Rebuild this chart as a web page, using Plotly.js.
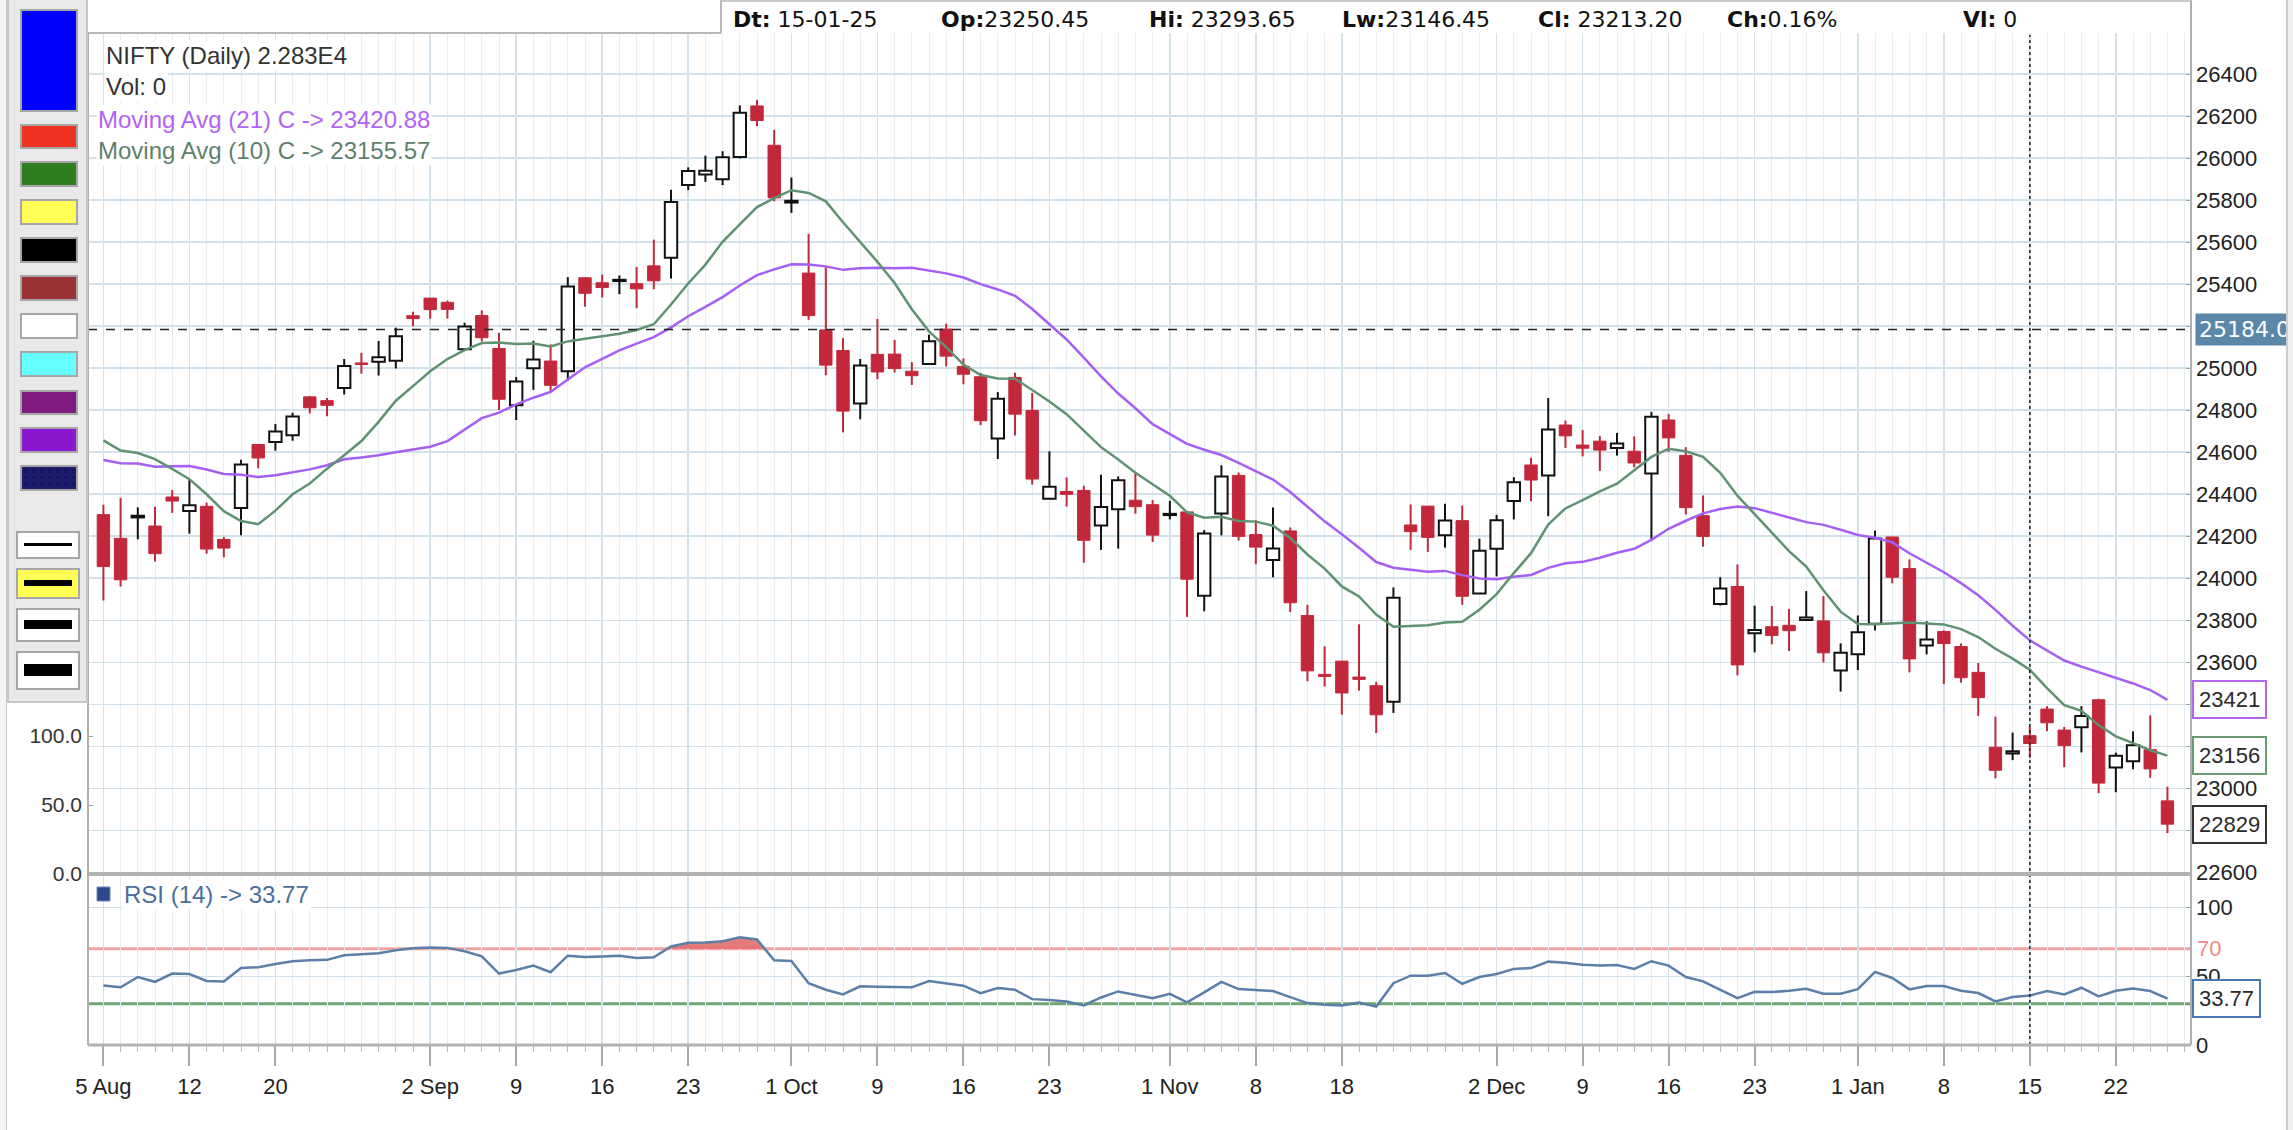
<!DOCTYPE html>
<html>
<head>
<meta charset="utf-8">
<script src="https://cdn.plot.ly/plotly-3.0.1.min.js"></script>
<style>
html,body{margin:0;padding:0;background:#fff;overflow:hidden;}
#chart{position:absolute;left:0;top:0;width:2293px;height:1130px;}
#lstrip{position:absolute;left:0;top:0;width:7px;height:1130px;background:#f3f3f3;border-right:1px solid #c9c9c9;box-sizing:border-box;}
#panel{position:absolute;left:7px;top:0;width:81px;height:703px;background:#e9e9e9;border-left:2px solid #c6c6c6;border-right:2px solid #c6c6c6;border-bottom:2px solid #c6c6c6;box-sizing:border-box;}
.sw{position:absolute;left:20px;width:58px;border:2px solid #a6a6a6;box-sizing:border-box;}
.lb{position:absolute;left:16px;width:64px;border:2px solid #a6a6a6;box-sizing:border-box;}
.lb div{position:absolute;left:6px;right:6px;background:#000;}
#rstrip{position:absolute;left:2286px;top:0;width:7px;height:1130px;background:#efefef;border-left:2px solid #cdcdcd;box-sizing:border-box;}
</style>
</head>
<body>
<div id="chart"></div>
<div id="lstrip"></div>
<div id="panel"></div>
<div class="sw" style="top:9px;height:103px;background:#0000ff"></div>
<div class="sw" style="top:124px;height:25px;background:#ee3322"></div>
<div class="sw" style="top:161px;height:26px;background:#2e7d20"></div>
<div class="sw" style="top:199px;height:26px;background:#ffff55"></div>
<div class="sw" style="top:237px;height:26px;background:#000000"></div>
<div class="sw" style="top:275px;height:26px;background:#993333"></div>
<div class="sw" style="top:313px;height:26px;background:#ffffff"></div>
<div class="sw" style="top:351px;height:26px;background:#66ffff"></div>
<div class="sw" style="top:390px;height:25px;background:#7f1a7f"></div>
<div class="sw" style="top:427px;height:26px;background:#8a18d0"></div>
<div class="sw" style="top:465px;height:26px;background:#1c1c6c;background-image:radial-gradient(#05052a 1px,transparent 1.2px);background-size:8px 7px"></div>
<div class="lb" style="top:531px;height:28px;background:#fff"><div style="top:10px;height:3px"></div></div>
<div class="lb" style="top:568px;height:31px;background:#ffff55"><div style="top:10px;height:6px"></div></div>
<div class="lb" style="top:608px;height:34px;background:#fff"><div style="top:10px;height:9px"></div></div>
<div class="lb" style="top:651px;height:39px;background:#fff"><div style="top:11px;height:12px"></div></div>
<div id="rstrip"></div>
<script>
// ---------------- data ----------------
const dates = [
'2024-08-05','2024-08-06','2024-08-07','2024-08-08','2024-08-09','2024-08-12','2024-08-13','2024-08-14','2024-08-16','2024-08-19',
'2024-08-20','2024-08-21','2024-08-22','2024-08-23','2024-08-26','2024-08-27','2024-08-28','2024-08-29','2024-08-30','2024-09-02',
'2024-09-03','2024-09-04','2024-09-05','2024-09-06','2024-09-09','2024-09-10','2024-09-11','2024-09-12','2024-09-13','2024-09-16',
'2024-09-17','2024-09-18','2024-09-19','2024-09-20','2024-09-23','2024-09-24','2024-09-25','2024-09-26','2024-09-27','2024-09-30',
'2024-10-01','2024-10-03','2024-10-04','2024-10-07','2024-10-08','2024-10-09','2024-10-10','2024-10-11','2024-10-14','2024-10-15',
'2024-10-16','2024-10-17','2024-10-18','2024-10-21','2024-10-22','2024-10-23','2024-10-24','2024-10-25','2024-10-28','2024-10-29',
'2024-10-30','2024-10-31','2024-11-01','2024-11-04','2024-11-05','2024-11-06','2024-11-07','2024-11-08','2024-11-11','2024-11-12',
'2024-11-13','2024-11-14','2024-11-18','2024-11-19','2024-11-21','2024-11-22','2024-11-25','2024-11-26','2024-11-27','2024-11-28',
'2024-11-29','2024-12-02','2024-12-03','2024-12-04','2024-12-05','2024-12-06','2024-12-09','2024-12-10','2024-12-11','2024-12-12',
'2024-12-13','2024-12-16','2024-12-17','2024-12-18','2024-12-19','2024-12-20','2024-12-23','2024-12-24','2024-12-26','2024-12-27',
'2024-12-30','2024-12-31','2025-01-01','2025-01-02','2025-01-03','2025-01-06','2025-01-07','2025-01-08','2025-01-09','2025-01-10',
'2025-01-13','2025-01-14','2025-01-15','2025-01-16','2025-01-17','2025-01-20','2025-01-21','2025-01-22','2025-01-23','2025-01-24',
'2025-01-27'];

const open = [
24302.85,24189.85,24289.40,24248.55,24386.85,24320.05,24342.35,24184.40,24334.85,24636.35,
24648.90,24680.55,24863.40,24845.40,24906.10,25024.80,25030.80,25035.30,25249.70,25333.60,
25313.40,25089.95,25250.50,25093.70,24823.40,24999.40,25034.00,24985.30,25430.45,25406.65,
25416.90,25402.40,25487.05,25525.95,25872.55,25921.45,25899.45,26005.40,26248.25,26061.10,
25788.45,25452.85,25181.90,25084.10,24832.20,25065.80,25067.05,24985.30,25019.40,25186.30,
25008.55,24959.20,24664.95,24956.15,24798.65,24378.15,24412.70,24418.05,24251.10,24328.85,
24371.45,24349.85,24302.75,24315.75,23916.50,24308.75,24489.60,24207.70,24087.25,24225.30,
23822.45,23542.15,23605.30,23529.55,23488.45,23411.80,24253.55,24343.30,24204.80,24274.15,
23927.15,24140.85,24367.50,24539.15,24488.75,24729.45,24633.90,24652.65,24620.50,24604.45,
24498.35,24753.40,24584.80,24297.95,23877.15,23960.70,23738.20,23769.10,23775.80,23801.40,
23796.90,23560.60,23637.65,23783.00,24196.40,24045.80,23679.90,23746.65,23674.75,23551.90,
23195.40,23165.90,23250.45,23377.25,23277.10,23290.40,23421.65,23099.15,23128.30,23183.90,
22940.15];

const high = [
24350.05,24382.60,24337.70,24340.50,24419.75,24472.80,24359.95,24196.50,24563.55,24638.80,
24734.30,24787.95,24867.35,24858.40,25043.80,25073.10,25129.60,25192.90,25268.35,25333.65,
25321.70,25216.00,25275.45,25168.75,24957.50,25130.50,25113.70,25433.35,25430.50,25445.70,
25441.65,25482.20,25611.95,25849.25,25956.00,26011.55,26032.80,26250.90,26277.35,26134.70,
25907.60,25639.45,25485.05,25143.00,25044.00,25234.05,25134.05,25028.65,25159.75,25212.05,
25046.15,24977.55,24886.20,24978.30,24882.00,24604.25,24480.65,24440.25,24492.60,24484.50,
24498.20,24372.45,24368.25,24316.75,24229.05,24537.60,24503.35,24276.15,24336.80,24242.00,
23873.60,23675.90,23606.80,23780.65,23507.30,23956.10,24351.55,24343.30,24354.55,24345.75,
24188.45,24301.70,24481.35,24573.20,24857.75,24751.05,24705.00,24677.80,24691.75,24675.25,
24792.30,24781.25,24624.10,24394.45,24004.90,24065.80,23869.55,23867.65,23854.50,23938.85,
23915.35,23689.85,23822.80,24226.70,24196.45,24089.95,23795.20,23751.85,23689.50,23596.60,
23340.95,23264.95,23293.65,23391.10,23292.10,23391.10,23426.30,23169.55,23270.80,23347.30,
23007.45];

const low = [
23893.70,23960.40,24184.90,24079.70,24311.20,24212.10,24116.50,24099.70,24204.50,24522.95,
24607.20,24654.50,24784.45,24771.65,24874.70,24973.65,24964.65,24998.50,25199.40,25235.50,
25235.80,25083.80,25127.75,24801.30,24753.15,24896.80,24885.15,24941.45,25292.45,25336.20,
25352.25,25285.55,25376.05,25426.60,25847.35,25886.85,25871.35,25998.40,26151.40,25794.10,
25739.20,25230.30,24966.80,24694.35,24756.80,24947.70,24979.40,24920.05,25017.50,25008.15,
24923.20,24728.70,24567.65,24679.60,24445.80,24378.10,24341.20,24073.90,24134.90,24140.85,
24307.30,24172.60,24280.20,23816.15,23842.75,24204.05,24179.60,24066.65,24004.60,23839.15,
23509.60,23484.15,23350.40,23464.80,23263.15,23359.00,24135.45,24125.40,24145.65,23873.35,
23927.15,24008.65,24280.00,24366.30,24295.55,24620.50,24580.05,24510.65,24583.85,24527.95,
24180.80,24601.75,24303.45,24149.85,23870.30,23537.35,23647.20,23685.15,23653.60,23800.60,
23599.30,23460.45,23562.80,23751.55,23976.00,23551.90,23637.80,23496.15,23503.05,23344.35,
23047.25,23134.15,23146.45,23272.05,23100.35,23170.65,22976.85,22981.30,23090.65,23050.00,
22786.90];

const close = [
24055.60,23992.55,24297.50,24117.00,24367.50,24347.00,24139.00,24143.75,24541.15,24572.65,
24698.85,24770.20,24811.50,24823.15,25010.60,25017.75,25052.35,25151.95,25235.90,25278.70,
25279.85,25198.70,25145.10,24852.15,24936.40,25041.10,24918.45,25388.90,25356.50,25383.75,
25418.55,25377.55,25415.80,25790.95,25939.05,25940.40,26004.15,26216.05,26178.95,25810.85,
25796.90,25250.10,25014.60,24795.75,25013.15,24981.95,24998.45,24964.25,25127.95,25057.35,
24971.30,24749.85,24854.05,24781.10,24472.10,24435.50,24399.40,24180.80,24339.15,24466.85,
24340.85,24205.35,24304.35,23995.35,24213.30,24484.05,24199.35,24148.20,24141.30,23883.45,
23559.05,23532.70,23453.80,23518.50,23349.90,23907.25,24221.90,24194.50,24274.90,23914.15,
24131.10,24276.05,24457.15,24467.45,24708.40,24677.80,24619.00,24610.05,24641.80,24548.70,
24768.30,24668.25,24336.00,24198.85,23951.70,23587.50,23753.45,23727.65,23750.20,23813.40,
23644.90,23644.80,23742.90,24188.65,24004.75,23616.05,23707.90,23688.95,23526.50,23431.50,
23085.95,23176.05,23213.20,23311.80,23203.20,23344.75,23024.65,23155.35,23205.35,23092.20,
22829.15];

const ma21 = [
24563.0,24547.3,24546.2,24531.1,24533.2,24534.7,24517.4,24496.3,24492.9,24482.0,
24490.0,24502.5,24518.3,24537.8,24566.6,24575.3,24585.6,24599.7,24613.2,24626.0,
24652.8,24707.2,24762.0,24788.4,24827.4,24859.5,24886.7,24946.2,25003.9,25044.1,
25084.4,25116.7,25147.5,25194.1,25247.2,25291.5,25338.4,25393.9,25442.8,25470.1,
25494.8,25493.4,25484.6,25468.0,25475.7,25477.9,25475.8,25478.0,25465.6,25451.3,
25431.6,25399.8,25374.8,25344.6,25281.8,25210.2,25136.8,25050.0,24960.6,24879.1,
24809.1,24733.3,24688.2,24639.7,24611.9,24586.7,24549.4,24509.0,24469.8,24410.5,
24339.1,24270.7,24209.0,24145.4,24077.2,24050.3,24040.1,24030.4,24034.9,24014.7,
23998.7,23995.6,24007.6,24015.3,24049.3,24071.4,24077.9,24097.4,24121.0,24140.4,
24182.5,24235.3,24273.6,24309.0,24329.7,24341.0,24333.7,24310.1,24289.0,24267.0,
24254.1,24231.0,24205.6,24192.9,24170.9,24118.9,24072.7,24028.4,23976.8,23919.2,
23849.5,23773.7,23704.4,23655.7,23608.2,23579.3,23552.5,23524.0,23499.1,23467.8,
23420.9];

const ma10 = [
24656.3,24607.7,24596.1,24567.2,24520.5,24471.6,24399.8,24319.1,24272.1,24257.6,
24321.9,24399.6,24451.0,24521.6,24585.9,24653.0,24744.3,24845.1,24914.6,24985.2,
25043.3,25086.2,25119.5,25122.4,25114.9,25117.2,25103.8,25127.5,25139.6,25150.1,
25164.0,25181.9,25209.0,25302.9,25403.2,25493.1,25601.7,25684.4,25766.6,25809.3,
25847.1,25834.3,25794.2,25694.7,25602.1,25506.3,25405.7,25280.5,25175.4,25100.0,
25017.4,24967.4,24951.3,24949.8,24895.7,24841.1,24781.2,24702.9,24624.0,24565.0,
24502.0,24447.5,24392.5,24313.9,24288.0,24292.8,24272.8,24269.5,24249.7,24191.3,
24113.1,24045.9,23960.9,23913.3,23827.0,23769.3,23771.6,23776.3,23789.7,23792.8,
23850.0,23924.3,24024.6,24119.4,24255.2,24332.3,24372.0,24413.5,24450.2,24513.7,
24577.4,24616.6,24604.5,24577.7,24502.1,24393.1,24306.5,24218.3,24129.1,24055.5,
23943.2,23840.9,23781.6,23780.6,23785.9,23788.7,23784.2,23780.3,23758.0,23719.9,
23664.0,23617.1,23564.1,23476.4,23396.2,23369.1,23300.8,23247.4,23215.2,23181.2,
23155.6];

const rsi = [
43.4,42.0,49.5,46.0,52.0,51.7,46.6,46.3,56.0,56.6,
59.0,61.0,61.7,62.0,65.4,65.9,66.8,69.0,70.5,71.0,
70.7,68.3,64.6,52.0,54.6,57.8,53.0,65.0,64.0,64.4,
65.0,63.4,63.9,71.7,74.4,74.6,75.6,78.5,76.8,61.7,
61.2,45.0,40.2,36.8,42.7,42.4,42.4,42.0,46.6,44.9,
43.2,37.8,41.5,40.2,33.4,32.7,31.7,28.8,34.6,39.0,
36.6,34.0,37.3,31.0,38.3,46.0,40.7,39.8,39.3,34.9,
30.5,29.3,28.8,31.0,28.0,45.0,50.5,50.5,52.4,44.6,
49.5,51.7,55.4,56.0,60.7,59.8,58.5,57.8,58.3,55.4,
61.0,57.8,49.5,46.3,40.2,34.1,38.8,38.5,39.5,41.0,
37.3,37.3,40.7,53.2,48.8,40.5,42.9,42.9,39.5,37.8,
31.7,34.9,36.0,39.3,36.8,41.7,35.4,39.5,41.2,39.3,
33.77];

const tickDates = ['2024-08-05','2024-08-12','2024-08-20','2024-09-02','2024-09-09','2024-09-16','2024-09-23',
  '2024-10-01','2024-10-09','2024-10-16','2024-10-23','2024-11-01','2024-11-08','2024-11-18',
  '2024-12-02','2024-12-09','2024-12-16','2024-12-23','2025-01-01','2025-01-08','2025-01-15','2025-01-22'];
const tickText = ['5 Aug','12','20','2 Sep','9','16','23','1 Oct','9','16','23','1 Nov','8','18',
  '2 Dec','9','16','23','1 Jan','8','15','22'];
const priceTicks = [22600,22800,23000,23200,23400,23600,23800,24000,24200,24400,24600,24800,
  25000,25200,25400,25600,25800,26000,26200,26400];
// labels hidden behind the value boxes are left blank (as in the reference)
const priceTickText = ['22600','','23000','','','23600','23800','24000','24200','24400','24600','24800',
  '25000','','25400','25600','25800','26000','26200','26400'];
const volTicks = [0,50,100];
const volTickText = ['0.0','50.0','100.0'];
const rsiTicks = [0,50,100];
const rsiTickText = ['0','50','100'];
const rsiUpper = 70, rsiLower = 30;

const cursorDate = '2025-01-15';
const cursorPrice = 25184;
const info = {dt:'15-01-25', op:'23250.45', hi:'23293.65', lw:'23146.45', cl:'23213.20', ch:'0.16%', vl:'0'};
const lastPriceLabel = '2.283E4';
const volLabel = '0';
const ma21Label = '23420.88';
const ma10Label = '23155.57';
const rsiLabel = '33.77';

// ---------------- drawing ----------------
const W = 2293, H = 1130;
const px = x => x / W;
const py = y => 1 - y / H;
const RED = '#c2283a';
const idx = dates.map((d, i) => i);
const tickvals = tickDates.map(d => dates.indexOf(d));
const xr = [-0.895, 121.37];

const isUp = close.map((c, i) => c >= open[i]);
const bodyBase = [], bodyLen = [];
open.forEach((o, i) => {
  const lo = Math.min(o, close[i]), hi = Math.max(o, close[i]);
  if (hi - lo < 6) { const m = (hi + lo) / 2; bodyBase.push(m - 3); bodyLen.push(6); }
  else { bodyBase.push(lo); bodyLen.push(hi - lo); }
});

function wicks(up, color) {
  const x = [], y = [];
  idx.forEach(i => {
    if (isUp[i] !== up) return;
    const top = Math.max(open[i], close[i]), bot = Math.min(open[i], close[i]);
    x.push(i, i, null, i, i, null);
    y.push(high[i], top, null, bot, low[i], null);
  });
  return {type:'scatter', mode:'lines', x, y, xaxis:'x', yaxis:'y', line:{color, width:2}, hoverinfo:'skip'};
}

// RSI overbought fill polygons
const fills = [];
let seg = null;
for (let i = 0; i < rsi.length; i++) {
  const v = rsi[i];
  if (v > rsiUpper) {
    if (!seg) {
      seg = {x:[], y:[]};
      if (i > 0) { const p = rsi[i-1]; seg.x.push(i - 1 + (rsiUpper - p) / (v - p)); }
      else seg.x.push(i);
      seg.y.push(rsiUpper);
    }
    seg.x.push(i); seg.y.push(v);
  } else if (seg) {
    const p = rsi[i-1]; seg.x.push(i - 1 + (rsiUpper - p) / (v - p)); seg.y.push(rsiUpper);
    fills.push(seg); seg = null;
  }
}
if (seg) { seg.x.push(seg.x[seg.x.length-1]); seg.y.push(rsiUpper); fills.push(seg); }

const traces = [
  {type:'scatter', mode:'markers', x:[0], y:[0], xaxis:'x', yaxis:'y3', marker:{opacity:0}, hoverinfo:'skip'},
  {type:'bar', x:idx, y:bodyLen, base:bodyBase, width:0.72, xaxis:'x', yaxis:'y',
   marker:{color:isUp.map(u => u ? '#ffffff' : RED), line:{color:isUp.map(u => u ? '#111111' : RED), width:isUp.map(u => u ? 2 : 1)}},
   hoverinfo:'skip'},
  wicks(true, '#111111'),
  wicks(false, RED),
  {type:'scatter', mode:'lines', x:idx, y:ma21, xaxis:'x', yaxis:'y', line:{color:'#a65ef4', width:2.5}, hoverinfo:'skip'},
  {type:'scatter', mode:'lines', x:idx, y:ma10, xaxis:'x', yaxis:'y', line:{color:'#5f9272', width:2.5}, hoverinfo:'skip'}
];
fills.forEach(s => traces.push({type:'scatter', mode:'lines', x:s.x, y:s.y, xaxis:'x2', yaxis:'y2', fill:'toself',
  fillcolor:'rgba(222,100,100,0.85)', line:{width:0, color:'rgba(0,0,0,0)'}, hoverinfo:'skip'}));
traces.push({type:'scatter', mode:'lines', x:idx, y:rsi, xaxis:'x2', yaxis:'y2', line:{color:'#5b7fa8', width:2.5}, hoverinfo:'skip'});

const FONT = 'Arial, "Liberation Sans", sans-serif';
const GRID = '#d3e2ea', MINOR = '#e6eef3';
const xbase = {range:xr, tickmode:'array', tickvals, zeroline:false, showline:false, showgrid:true,
  gridcolor:GRID, gridwidth:1.5,
  minor:{tickmode:'linear', tick0:0, dtick:1, showgrid:true, gridcolor:MINOR, gridwidth:1}};

const shapes = [
  {type:'line', xref:'paper', yref:'y2', x0:px(88), x1:px(2191), y0:rsiUpper, y1:rsiUpper, line:{color:'#f3a3a3', width:3}, layer:'between'},
  {type:'line', xref:'paper', yref:'y2', x0:px(88), x1:px(2191), y0:rsiLower, y1:rsiLower, line:{color:'#70a470', width:3}, layer:'between'},
  {type:'line', xref:'paper', yref:'y', x0:px(88), x1:px(2191), y0:cursorPrice, y1:cursorPrice, line:{color:'#222', width:1.5, dash:'dash'}},
  {type:'line', xref:'x', yref:'paper', x0:dates.indexOf(cursorDate), x1:dates.indexOf(cursorDate), y0:py(1045), y1:py(35), line:{color:'#222', width:1.5, dash:'dot'}},
  {type:'line', xref:'paper', yref:'paper', x0:px(88), x1:px(721), y0:py(33), y1:py(33), line:{color:'#b8b8b8', width:2}},
  {type:'line', xref:'paper', yref:'paper', x0:px(88), x1:px(88), y0:py(33), y1:py(1045), line:{color:'#b0b0b0', width:2}},
  {type:'line', xref:'paper', yref:'paper', x0:px(2191), x1:px(2191), y0:py(0), y1:py(1045), line:{color:'#b0b0b0', width:2}},
  {type:'line', xref:'paper', yref:'paper', x0:px(88), x1:px(2191), y0:py(874), y1:py(874), line:{color:'#b2b2b2', width:4}},
  {type:'line', xref:'paper', yref:'paper', x0:px(88), x1:px(2191), y0:py(1045), y1:py(1045), line:{color:'#b2b2b2', width:3}},
  {type:'line', xref:'paper', yref:'paper', x0:px(721), x1:px(721), y0:py(0), y1:py(33), line:{color:'#b8b8b8', width:2}},
  {type:'line', xref:'paper', yref:'paper', x0:px(721), x1:px(2191), y0:py(1), y1:py(1), line:{color:'#c8c8c8', width:2}},
  {type:'rect', xref:'paper', yref:'paper', x0:px(97), x1:px(110), y0:py(901), y1:py(887), fillcolor:'#2c4a8c', line:{color:'#7088b8', width:1}}
];

function txt(x, y, text, size, color, extra) {
  return Object.assign({xref:'paper', yref:'paper', x:px(x), y:py(y), xanchor:'left', yanchor:'middle',
    text, showarrow:false, font:{family:FONT, size, color}}, extra || {});
}
const INF = '"DejaVu Sans", Verdana, sans-serif';
function inf(x, lab, val) {
  return {xref:'paper', yref:'paper', x:px(x), y:py(19.5), xanchor:'left', yanchor:'middle', showarrow:false,
    text:'<b>' + lab + '</b>' + val, font:{family:INF, size:22, color:'#111'}};
}
function box(yref, y, text, border) {
  return {xref:'paper', yref, x:px(2192), y, xanchor:'left', yanchor:'middle', showarrow:false, text,
    font:{family:FONT, size:22, color:'#2a2a2a'}, bgcolor:'#ffffff', bordercolor:border, borderwidth:2, borderpad:5};
}

const annotations = [
  txt(104, 56, 'NIFTY (Daily) ' + lastPriceLabel, 24, '#333', {bgcolor:'#fff'}),
  txt(104, 87, 'Vol: ' + volLabel, 24, '#333', {bgcolor:'#fff'}),
  txt(96, 120, 'Moving Avg (21) C -&gt; ' + ma21Label, 24, '#b263f6', {bgcolor:'#fff'}),
  txt(96, 151, 'Moving Avg (10) C -&gt; ' + ma10Label, 24, '#5f7f6c', {bgcolor:'#fff'}),
  txt(122, 894, 'RSI (14) -&gt; ' + rsiLabel, 24, '#4a6f9a', {bgcolor:'#fff'}),
  inf(731, 'Dt:', ' ' + info.dt),
  inf(939, 'Op:', info.op),
  inf(1147, 'Hi:', ' ' + info.hi),
  inf(1340, 'Lw:', info.lw),
  inf(1536, 'Cl:', ' ' + info.cl),
  inf(1725, 'Ch:', info.ch),
  inf(1961, 'Vl:', ' ' + info.vl),
  {xref:'paper', yref:'y', x:px(2195), y:cursorPrice, xanchor:'left', yanchor:'middle', showarrow:false,
   text:cursorPrice.toFixed(1), font:{family:INF, size:22, color:'#ffffff'}, bgcolor:'#5b87a8', borderpad:3},
  box('y', ma21[ma21.length-1], Math.round(ma21[ma21.length-1]).toString(), '#b366f2'),
  box('y', ma10[ma10.length-1], Math.round(ma10[ma10.length-1]).toString(), '#6a9a72'),
  box('y', close[close.length-1], Math.round(close[close.length-1]).toString(), '#333333'),
  box('y2', rsi[rsi.length-1], rsiLabel, '#4a78ae'),
  {xref:'paper', yref:'y2', x:px(2195), y:rsiUpper, xanchor:'left', yanchor:'middle', showarrow:false,
   text:String(rsiUpper), font:{family:FONT, size:22, color:'#f08c8c'}}
];

const layout = {
  width:W, height:H, margin:{l:0, r:0, t:0, b:0},
  paper_bgcolor:'#ffffff', plot_bgcolor:'#ffffff', showlegend:false,
  font:{family:FONT, size:22, color:'#222'},
  barmode:'overlay', hovermode:false,
  xaxis:Object.assign({}, xbase, {domain:[px(88), px(2191)], anchor:'y', showticklabels:false, ticks:''}),
  xaxis2:Object.assign({}, xbase, {domain:[px(88), px(2191)], anchor:'y2', ticktext:tickText,
    ticks:'outside', ticklen:20, tickwidth:2, tickcolor:'#a8a8a8', ticklabelstandoff:2,
    tickfont:{family:FONT, size:22, color:'#222'},
    minor:{tickmode:'linear', tick0:0, dtick:1, showgrid:true, gridcolor:MINOR, gridwidth:1,
      ticks:'outside', ticklen:6, tickwidth:1, tickcolor:'#b8b8b8'}}),
  yaxis:{domain:[py(874), py(33)], range:[22592, 26595.6], anchor:'x', side:'right',
    tickmode:'array', tickvals:priceTicks, ticktext:priceTickText, ticks:'inside', ticklen:5, tickcolor:'#a0a0a0',
    showgrid:true, gridcolor:GRID, gridwidth:1.5, zeroline:false, showline:false,
    ticklabelstandoff:4, tickfont:{family:FONT, size:22, color:'#222'}},
  yaxis2:{domain:[py(1045), py(874)], range:[0, 124.5], anchor:'x2', side:'right',
    tickmode:'array', tickvals:rsiTicks, ticktext:rsiTickText, ticks:'inside', ticklen:5, tickcolor:'#a0a0a0',
    showgrid:true, gridcolor:GRID, gridwidth:1.5, zeroline:false, showline:false,
    ticklabelstandoff:4, tickfont:{family:FONT, size:22, color:'#222'}},
  yaxis3:{overlaying:'y', anchor:'x', side:'left', range:[0, 609.4],
    tickmode:'array', tickvals:volTicks, ticktext:volTickText, ticks:'inside', ticklen:5, tickcolor:'#a0a0a0',
    showgrid:false, zeroline:false, showline:false, ticklabelstandoff:5,
    tickfont:{family:FONT, size:21, color:'#333'}},
  shapes, annotations
};

Plotly.newPlot('chart', traces, layout, {displayModeBar:false, staticPlot:true});
</script>
</body>
</html>
